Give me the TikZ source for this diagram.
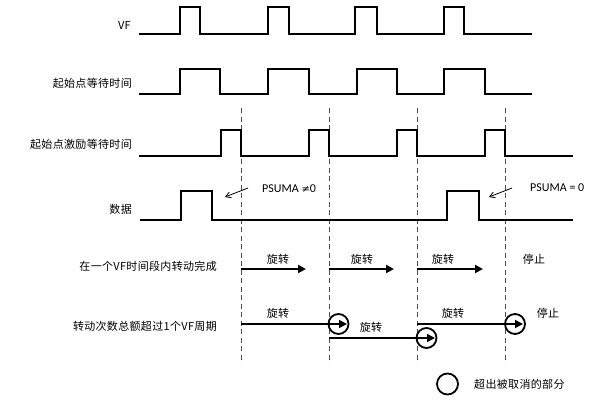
\documentclass[tikz,border=0pt]{standalone}
\usepackage{fontspec}
\setmainfont{Carlito}
\newfontfamily\cjk[LetterSpace=3]{Noto Sans CJK SC}
\usetikzlibrary{arrows.meta}
\begin{document}
\begin{tikzpicture}[x=1pt,y=-1pt,
  sig/.style={line width=1.1pt, line join=miter},
  vline/.style={dash pattern=on 5pt off 3.5pt, line width=0.9pt, black!70},
  lbl/.style={font=\cjk\fontsize{11}{13}\selectfont, inner sep=0pt},
  rowlbl/.style={lbl, anchor=east},
  lat/.style={font=\fontsize{12}{14}\selectfont, inner sep=0pt, anchor=west},
  runarrow/.style={line width=2pt, -{Triangle[length=8pt,width=8pt]}},
  runarrowb/.style={line width=1.6pt, -{Triangle[length=8pt,width=8pt]}},
  cancel/.style={circle, draw, line width=1.8pt, minimum size=20pt, inner sep=0pt},
  ptr/.style={line width=0.8pt, -{Straight Barb[length=5pt,width=6pt]}}]
\useasboundingbox (0,0) rectangle (595,402);

% row labels
\node[rowlbl] (lvf) at (131,25) {VF};
\node[rowlbl] (lwait) at (132,83) {起始点等待时间};
\node[rowlbl] (lexc) at (132,144) {起始点激励等待时间};
\node[rowlbl] (ldata) at (132,209) {数据};
\node[rowlbl] (lr5) at (217,266) {在一个VF时间段内转动完成};
\node[rowlbl] (lr6) at (217,326) {转动次数总额超过1个VF周期};

% dashed verticals
\foreach \x/\n in {241/a,329/b,417/c,505/d}{
  \coordinate (t\n) at (\x,108);
  \coordinate (b\n) at (\x,363);
  \draw[vline] (t\n) -- (b\n);
}

% VF
\draw[sig] (139,34) -- (180,34) -- (180,7) -- (200,7) -- (200,34) -- (268,34) -- (268,7) -- (289,7) -- (289,34)
  -- (355,34) -- (355,7) -- (377,7) -- (377,34) -- (444,34) -- (444,7) -- (464,7) -- (464,34) -- (532,34);
% start wait
\draw[sig] (139,94) -- (180,94) -- (180,69) -- (220,69) -- (220,94) -- (268,94) -- (268,69) -- (309,69) -- (309,94)
  -- (357,94) -- (357,69) -- (397,69) -- (397,94) -- (444,94) -- (444,69) -- (485,69) -- (485,94) -- (532,94);
% start excitation wait
\draw[sig] (139,156) -- (221,156) -- (221,130) -- (241,130) -- (241,156) -- (309,156) -- (309,130) -- (329,130) -- (329,156)
  -- (397,156) -- (397,130) -- (417,130) -- (417,156) -- (485,156) -- (485,130) -- (505,130) -- (505,156) -- (573,156);
% data
\draw[sig] (140,220) -- (181,220) -- (181,191) -- (212,191) -- (212,220) -- (447,220) -- (447,191) -- (479,191) -- (479,220) -- (573,220);

% PSUMA notes
\node[lat] (p1) at (262,189) {PSUMA {\fontspec{DejaVu Sans}\fontsize{10}{12}\selectfont ≠}0};
\node[lat] (p2) at (530,188) {PSUMA = 0};
\coordinate (p1t) at (225,197);
\coordinate (p2t) at (489,197);
\draw[ptr] (248,188) -- (p1t);
\draw[ptr] (512,188) -- (p2t);

% row 5
\coordinate (r5e1) at (306,269);
\coordinate (r5e2) at (394,269);
\coordinate (r5e3) at (483,269);
\draw[runarrow] (241,269) -- (r5e1);
\draw[runarrow] (329,269) -- (r5e2);
\draw[runarrow] (417,269) -- (r5e3);
\node[lbl] (s51) at (278,259) {旋转};
\node[lbl] (s52) at (362,259) {旋转};
\node[lbl] (s53) at (443,259) {旋转};
\node[lbl] (s54) at (534,259) {停止};

% row 6
\node[cancel] (c1) at (338.5,324) {};
\node[cancel] (c2) at (426.5,338) {};
\node[cancel] (c3) at (515,324) {};
\coordinate (r6e1) at (347,324);
\coordinate (r6e2) at (435,338);
\coordinate (r6e3) at (523,324);
\draw[runarrowb] (241,324) -- (r6e1);
\draw[runarrowb] (329,338) -- (r6e2);
\draw[runarrowb] (417,324) -- (r6e3);
\node[lbl] (s61) at (278,313) {旋转};
\node[lbl] (s62) at (371,327) {旋转};
\node[lbl] (s63) at (453,313) {旋转};
\node[lbl] (s64) at (548,313) {停止};

% legend
\node[cancel, minimum size=21pt] (leg) at (447.5,384) {};
\node[lbl, anchor=west] (legt) at (474,384) {超出被取消的部分};
\end{tikzpicture}
\end{document}
